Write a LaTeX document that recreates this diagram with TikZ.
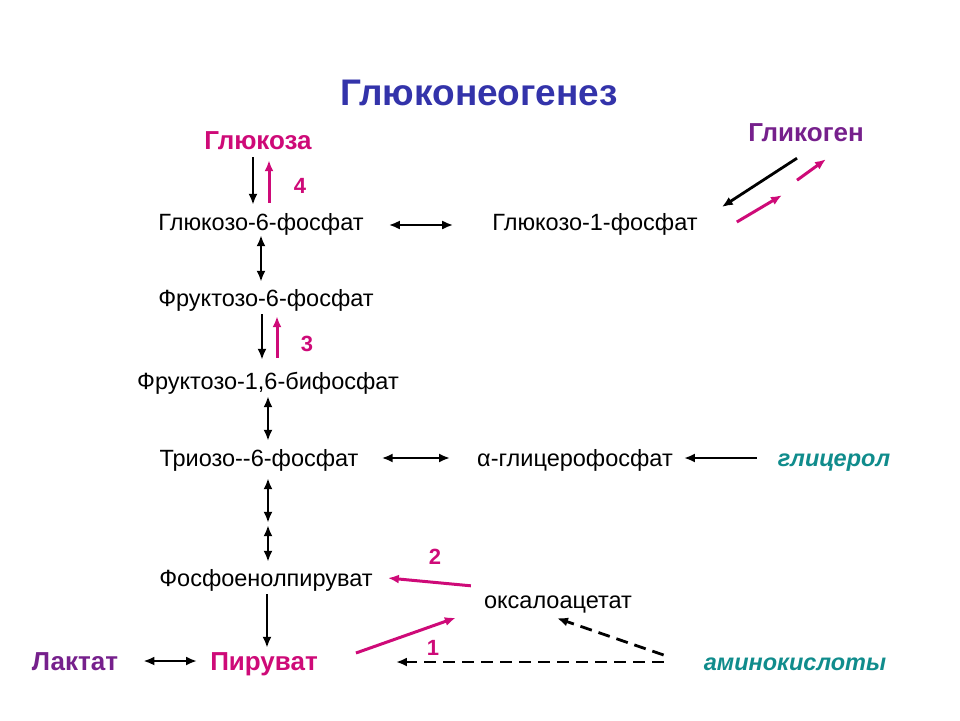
\documentclass[tikz,border=0pt]{standalone}
\usepackage{fontspec}
\setmainfont{Liberation Sans}
\usepackage{tikz}
\usetikzlibrary{arrows.meta}
\definecolor{titleblue}{RGB}{51,51,170}
\definecolor{keymag}{RGB}{206,10,120}
\definecolor{keypurp}{RGB}{118,32,140}
\definecolor{keyteal}{RGB}{16,140,140}

\begin{document}
\begin{tikzpicture}[x=1pt,y=1pt,yscale=-1,xscale=1,
    met/.style={font=\fontsize{23.5}{26}\selectfont, inner sep=0pt, text height=17pt, text depth=5pt},
    keymet/.style={font=\fontsize{26}{28}\selectfont\bfseries, inner sep=0pt, text height=18pt, text depth=5pt},
    srcmet/.style={font=\fontsize{23.5}{26}\selectfont\bfseries\itshape, text=keyteal, inner sep=0pt, text height=17pt, text depth=5pt},
    enzno/.style={font=\fontsize{22}{26}\selectfont\bfseries, text=keymag, inner sep=0pt},
    fwd/.style={line width=2.8pt, -{Latex[length=11pt,width=9pt]}},
    back/.style={fwd, draw=keymag, line width=3pt},
    both/.style={line width=2.8pt, {Latex[length=11pt,width=9pt]}-{Latex[length=11pt,width=9pt]}},
    side/.style={line width=2.8pt, dash pattern=on 12pt off 7pt, -{Latex[length=11pt,width=9pt]}}]
      \useasboundingbox (0,0) rectangle (960,720);
      % title
      \node (title) at (479,93) [font=\fontsize{37}{40}\selectfont\bfseries, text=titleblue] {Глюконеогенез};
      % metabolites
      \node (glc)  at (258,143) [keymet, text=keymag]  {Глюкоза};
      \node (gly)  at (806,135) [keymet, text=keypurp] {Гликоген};
      \node (g6p)  at (261,224) [met] {Глюкозо-6-фосфат};
      \node (g1p)  at (595,224) [met] {Глюкозо-1-фосфат};
      \node (f6p)  at (266,300) [met] {Фруктозо-6-фосфат};
      \node (fbp)  at (268,383) [met] {Фруктозо-1,6-бифосфат};
      \node (tri)  at (259,460) [met] {Триозо-{}-6-фосфат};
      \node (agp)  at (575,460) [met] {α-глицерофосфат};
      \node (glyc) at (834,460) [srcmet] {глицерол};
      \node (pep)  at (266,580) [met] {Фосфоенолпируват};
      \node (oaa)  at (558,602) [met] {оксалоацетат};
      \node (lac)  at (75,664)  [keymet, text=keypurp] {Лактат};
      \node (pyr)  at (264,664) [keymet, text=keymag]  {Пируват};
      \node (aa)   at (795,664) [srcmet] {аминокислоты};
      % bypass numbers
      \node (n4) at (300,186) [enzno] {4};
      \node (n3) at (307,344) [enzno] {3};
      \node (n2) at (435,557) [enzno] {2};
      \node (n1) at (433,648) [enzno] {1};
      % main chain
      \draw [fwd, shorten <=2.5pt, shorten >=8pt] ([xshift=-5pt]glc.south) -- ([xshift=-5pt]glc.south |- g6p.north);
      \draw [back, shorten <=10pt, shorten >=5.5pt] ([xshift=11pt]glc.south |- g6p.north) -- ([xshift=11pt]glc.south);
      \draw [both, shorten <=0pt, shorten >=7pt] (g6p.south) -- (g6p.south |- f6p.north);
      \draw [fwd, shorten <=3pt, shorten >=12pt] ([xshift=-4pt]f6p.south) -- ([xshift=-4pt]f6p.south |- fbp.north);
      \draw [back, shorten <=14pt, shorten >=5pt] ([xshift=11pt]f6p.south |- fbp.north) -- ([xshift=11pt]f6p.south);
      \draw [both, shorten <=2pt, shorten >=8pt] (fbp.south) -- (fbp.south |- tri.north);
      \draw [both, shorten <=7pt, shorten >=46pt] ([xshift=9pt]tri.south) -- ([xshift=9pt]tri.south |- pep.north);
      \draw [both, shorten <=54pt, shorten >=7pt] ([xshift=9pt]tri.south) -- ([xshift=9pt]tri.south |- pep.north);
      \draw [fwd, shorten <=3pt, shorten >=4.5pt] ([xshift=1pt]pep.south) -- ([xshift=1pt]pep.south |- pyr.north);
      % side branches
      \draw [both, shorten <=25pt, shorten >=39pt] ([yshift=1pt]g6p.east) -- ([yshift=1pt]g1p.west);
      \draw [fwd] ([shift={(-9,11.5)}]gly.south) -- ([shift={(24,-17)}]g1p.east);
      \draw [back] ([shift={(39,-2)}]g1p.east) -- ([shift={(-24,48.5)}]gly.south);
      \draw [back] ([shift={(-9,33.5)}]gly.south) -- ([shift={(20,12.5)}]gly.south);
      \draw [both, shorten <=23pt, shorten >=27pt] ([yshift=-2pt]tri.east) -- ([yshift=-2pt]agp.west);
      \draw [fwd, shorten <=21pt, shorten >=11pt] ([yshift=-2pt]glyc.west) -- ([yshift=-2pt]agp.east);
      \draw [both, shorten <=25pt, shorten >=13pt] ([yshift=-3pt]lac.east) -- ([yshift=-3pt]pyr.west);
      \draw [back] ([shift={(-13,-5)}]oaa.north west) -- ([shift={(15,-2)}]pep.east);
      \draw [back] ([shift={(38,-11)}]pyr.east) -- ([shift={(-28,4.5)}]oaa.south west);
      \draw [side] ([shift={(-40,-9)}]aa.west) -- ([shift={(-1,5)}]oaa.south);
      \draw [side] ([shift={(-40,-2)}]aa.west) -- ([shift={(78,-2)}]pyr.east);
\end{tikzpicture}
\end{document}
